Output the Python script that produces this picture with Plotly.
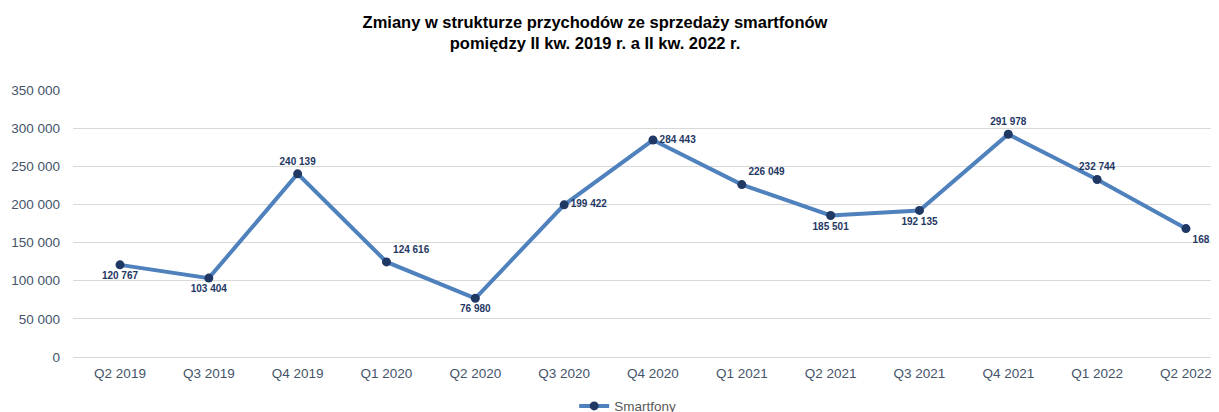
import plotly.graph_objects as go

categories = ["Q2 2019", "Q3 2019", "Q4 2019", "Q1 2020", "Q2 2020", "Q3 2020", "Q4 2020",
              "Q1 2021", "Q2 2021", "Q3 2021", "Q4 2021", "Q1 2022", "Q2 2022"]
values = [120767, 103404, 240139, 124616, 76980, 199422, 284443,
          226049, 185501, 192135, 291978, 232744, 168300]
label_pos = ["bottom center", "bottom center", "top center", "top right", "bottom center",
             "middle right", "middle right", "top right", "bottom center", "bottom center",
             "top center", "top center", "bottom right"]
series_name = "Smartfony"
ytick_vals = [0, 50000, 100000, 150000, 200000, 250000, 300000, 350000]


def fmt(v):
    return f"{v:,}".replace(",", " ")


fig = go.Figure()
fig.add_trace(go.Scatter(
    x=list(range(len(categories))), y=values, name=series_name,
    mode="lines+markers+text",
    line=dict(color="#4F81BD", width=4),
    marker=dict(color="#1F3864", size=9),
    text=[fmt(v) for v in values], textposition=label_pos,
    textfont=dict(family="Liberation Sans, Arial", size=10, color="#1F3864", weight="bold"),
    cliponaxis=False,
))

W, H = 1211, 404
fig.update_layout(
    width=W, height=H,
    margin=dict(l=65, r=0, t=82, b=55, autoexpand=False),
    paper_bgcolor="white", plot_bgcolor="white",
    title=dict(
        text="<b>Zmiany w strukturze przychodów ze sprzedaży smartfonów</b><br><b>pomiędzy II kw. 2019 r. a II kw. 2022 r.</b>",
        x=587 / W, xref="container", xanchor="center",
        y=1 - 20 / H, yref="container", yanchor="top",
        font=dict(family="Liberation Sans, Arial", size=16.5, color="#000000"),
    ),
    xaxis=dict(
        tickmode="array", tickvals=list(range(len(categories))), ticktext=categories,
        range=[-0.529, 12.372], showgrid=False, zeroline=False, showline=False,
        tickfont=dict(family="Liberation Sans, Arial", size=13.5, color="#44546A"),
        ticks="", ticklabelstandoff=6, automargin=False,
    ),
    yaxis=dict(
        range=[0, 350000], tickvals=ytick_vals, ticktext=[fmt(v) for v in ytick_vals],
        showgrid=True, gridcolor="#D9D9D9", gridwidth=1, zeroline=True,
        zerolinecolor="#D9D9D9", zerolinewidth=1, showline=False, ticks="",
        tickfont=dict(family="Liberation Sans, Arial", size=13.5, color="#44546A"),
        ticklabelstandoff=12, automargin=False,
    ),
    showlegend=True,
    legend=dict(
        orientation="h", x=0.484, xanchor="center", y=-0.184, yanchor="middle",
        font=dict(family="Liberation Sans, Arial", size=13.5, color="#595959"),
        bgcolor="rgba(0,0,0,0)",
    ),
)

fig.write_html("out.html")
